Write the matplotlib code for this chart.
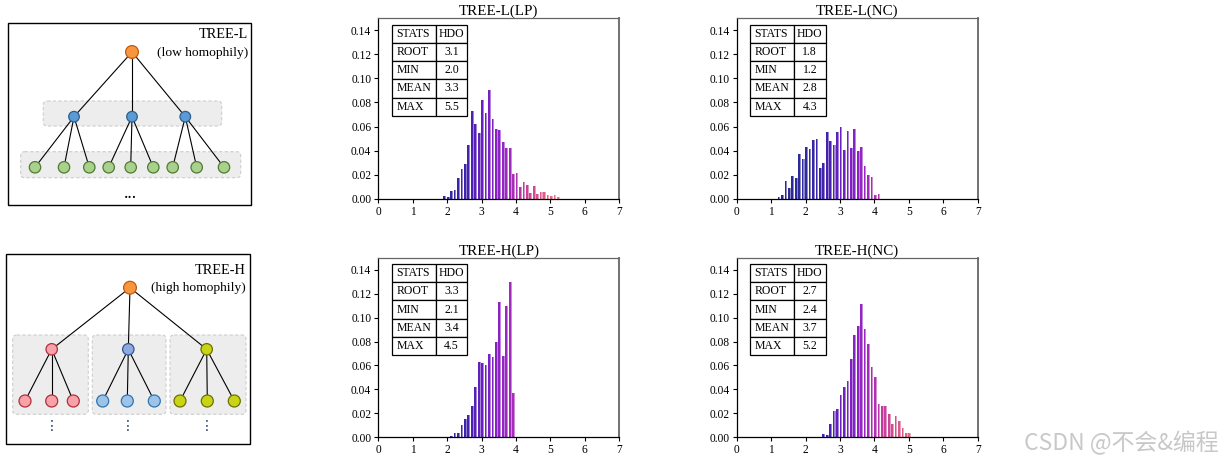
import numpy as np
import matplotlib
matplotlib.use("Agg")
import matplotlib.pyplot as plt
from matplotlib.patches import Circle, FancyBboxPatch, Rectangle
from matplotlib.colors import LinearSegmentedColormap, to_rgb

plt.rcParams['font.family'] = ['Liberation Serif', 'DejaVu Serif']

# ---- histogram data (bin width 0.1, first bin given by *_start) ----
BIN = 0.1
l_lp_start = 1.9
l_lp = [0.0025, 0.0014, 0.0064, 0.0072, 0.017, 0.0245, 0.029, 0.0446, 0.0733, 0.062,
        0.055, 0.082, 0.071, 0.090, 0.0666, 0.058, 0.057, 0.047, 0.042, 0.042,
        0.0206, 0.0217, 0.0095, 0.0137, 0.011, 0.0045, 0.0106, 0.004, 0.0053, 0.0053,
        0.0033, 0.002, 0.003, 0.0017]
l_nc_start = 1.2
l_nc = [0.0014, 0.0033, 0.0145, 0.0089, 0.019, 0.017, 0.0373, 0.0329, 0.0429, 0.041,
        0.049, 0.050, 0.0253, 0.0298, 0.0554, 0.048, 0.0448, 0.0554, 0.060, 0.0407,
        0.0565, 0.0418, 0.058, 0.040, 0.043, 0.0276, 0.0198, 0.0184, 0.003, 0.004]
h_lp_start = 2.1
h_lp = [0.0008, 0.0036, 0.0036, 0.0103, 0.0153, 0.0184, 0.0264, 0.042, 0.063, 0.0623,
        0.060, 0.0696, 0.067, 0.0796, 0.1127, 0.0679, 0.110, 0.130, 0.037, 0.0006]
h_nc_start = 2.5
h_nc = [0.0028, 0.0017, 0.011, 0.022, 0.024, 0.0356, 0.042, 0.047, 0.065, 0.0854,
        0.0927, 0.111, 0.0905, 0.078, 0.059, 0.0507, 0.0276, 0.026, 0.026, 0.0195,
        0.011, 0.0178, 0.0134, 0.008, 0.0036, 0.0036]

stat_names = ["ROOT", "MIN", "MEAN", "MAX"]
l_lp_stats = ["3.1", "2.0", "3.3", "5.5"]
l_nc_stats = ["1.8", "1.2", "2.8", "4.3"]
h_lp_stats = ["3.3", "2.1", "3.4", "4.5"]
h_nc_stats = ["2.7", "2.4", "3.7", "5.2"]

titles = ["TREE-L(LP)", "TREE-L(NC)", "TREE-H(LP)", "TREE-H(NC)"]
x_ticks = [0, 1, 2, 3, 4, 5, 6, 7]
y_ticks = [0.00, 0.02, 0.04, 0.06, 0.08, 0.10, 0.12, 0.14]

# colour along the x axis
anchors = [(1.0, "#26268c"), (2.0, "#2e2a9e"), (2.6, "#4322ad"), (3.0, "#6a1fbf"),
           (3.5, "#8c22c4"), (3.9, "#a82cb8"), (4.3, "#c8409a"), (4.8, "#dc5d86"),
           (5.2, "#e8788a")]
x_lo, x_hi = anchors[0][0], anchors[-1][0]
cmap = LinearSegmentedColormap.from_list(
    "hdo", [((v - x_lo) / (x_hi - x_lo), c) for v, c in anchors])


def lighten(c, f=0.45):
    r = np.array(to_rgb(c))
    return tuple(r + (1 - r) * f)


def hist_panel(rect, title, start, vals, stats):
    ax = fig.add_axes(rect)
    x = start + BIN * np.arange(len(vals))
    cols = [cmap(np.clip((v - x_lo) / (x_hi - x_lo), 0, 1)) for v in x]
    ax.bar(x - 0.01, vals, width=0.05, align="edge", color=cols, linewidth=0)
    ax.bar(x + 0.04, vals, width=0.03, align="edge",
           color=[lighten(c) for c in cols], linewidth=0)
    ax.set_xlim(0, 7)
    ax.set_ylim(0, 0.15)
    ax.set_xticks(x_ticks)
    ax.set_yticks(y_ticks)
    ax.set_yticklabels([f"{t:.2f}" for t in y_ticks])
    ax.tick_params(labelsize=8.3, length=3, width=0.8, pad=2)
    for s in ax.spines.values():
        s.set_linewidth(0.9)
    ax.spines["top"].set_color("#666666")
    ax.spines["right"].set_color("#666666")
    ax.spines["right"].set_linewidth(1.3)
    ax.set_title(title, fontsize=10.8, pad=1.5)

    # stats table (axes fraction)
    tx, ty_top, tw, th = 0.056, 0.963, 0.313, 0.503
    w0 = tw * 0.58
    rh = th / 5
    rows = [("STATS", "HDO")] + list(zip(stat_names, stats))
    for i, (a, b) in enumerate(rows):
        y0 = ty_top - (i + 1) * rh
        ax.add_patch(Rectangle((tx, y0), w0, rh, transform=ax.transAxes,
                               facecolor="white", edgecolor="black", lw=0.9, zorder=5))
        ax.add_patch(Rectangle((tx + w0, y0), tw - w0, rh, transform=ax.transAxes,
                               facecolor="white", edgecolor="black", lw=0.9, zorder=5))
        ax.text(tx + 0.018, y0 + rh / 2, a, transform=ax.transAxes, ha="left",
                va="center", fontsize=8.5, zorder=6)
        ax.text(tx + w0 + (tw - w0) / 2, y0 + rh / 2, b, transform=ax.transAxes,
                ha="center", va="center", fontsize=8.5, zorder=6)
    return ax


fig = plt.figure(figsize=(12.24, 4.66), dpi=100)

# ---- tree diagrams drawn in pixel coordinates ----
tr = fig.add_axes([0, 0, 1, 1], zorder=-1)
tr.set_xlim(0, 1224)
tr.set_ylim(466, 0)
tr.axis("off")


def node(x, y, r, fc, ec):
    tr.add_patch(Circle((x, y), r, facecolor=fc, edgecolor=ec, lw=0.9, zorder=4))


def edge(p, q):
    tr.plot([p[0], q[0]], [p[1], q[1]], color="black", lw=0.8, zorder=3)


def group(x0, y0, x1, y1):
    tr.add_patch(FancyBboxPatch((x0, y0), x1 - x0, y1 - y0,
                                boxstyle="round,pad=0,rounding_size=4",
                                facecolor="#ededed", edgecolor="#cdcdcd",
                                lw=0.8, linestyle=(0, (3, 2)), zorder=1))


ORANGE, ORANGE_E = "#f7963c", "#c25a12"
BLUE, BLUE_E = "#5b9bd5", "#2b5f8c"
GREEN, GREEN_E = "#a9d18e", "#537a34"

# TREE-L
tr.add_patch(Rectangle((8.3, 23.3), 242.4, 181.7, facecolor="none",
                       edgecolor="black", lw=1.0))
group(43.3, 101, 221.7, 126)
group(20.7, 151.7, 240.7, 177.7)
root = (132, 52)
mids = [74, 132, 185.3]
leaves = [[35, 64, 89.3], [108.7, 130.7, 153.3], [172.7, 196.7, 224]]
for m, ls in zip(mids, leaves):
    edge(root, (m, 116.7))
    node(m, 116.7, 5.3, BLUE, BLUE_E)
    for lx in ls:
        edge((m, 116.7), (lx, 167.3))
        node(lx, 167.3, 5.7, GREEN, GREEN_E)
node(*root, 6.4, ORANGE, ORANGE_E)
tr.text(248.3, 35, "TREE-L", ha="right", va="center", fontsize=10.3)
tr.text(248.3, 52.7, "(low homophily)", ha="right", va="center", fontsize=9.7)
tr.text(130.7, 193, "...", ha="center", va="center", fontsize=13)

# TREE-H
tr.add_patch(Rectangle((6, 254), 244, 190, facecolor="none",
                       edgecolor="black", lw=1.0))
root_h = (130, 287.7)
groups_h = [(12.7, 88.3), (92.3, 166), (170, 246)]
mids_h = [51.7, 128.3, 206.7]
leaves_h = [[25, 51.7, 73.3], [102.7, 127.3, 154.3], [180, 207.3, 234.3]]
mid_cols = [("#f7a1a8", "#b0303a"), ("#8eaadb", "#2f5597"), ("#c8d416", "#6e7000")]
leaf_cols = [("#f7a1a8", "#b0303a"), ("#9dc3e6", "#2e75b6"), ("#c8d416", "#6e7000")]
dot_x = [51.7, 127.3, 206.7]
for g, m, ls, mc, lc, dx in zip(groups_h, mids_h, leaves_h, mid_cols, leaf_cols, dot_x):
    group(g[0], 335, g[1], 414.3)
    edge(root_h, (m, 349.3))
    node(m, 349.3, 5.7, *mc)
    for lx in ls:
        edge((m, 349.3), (lx, 401))
        node(lx, 401, 6, *lc)
    tr.text(dx, 426, "\u22ee", ha="center", va="center", fontsize=10,
            color="#1f3864", family=["DejaVu Sans"])
node(*root_h, 6.4, ORANGE, ORANGE_E)
tr.text(246, 270.7, "TREE-H", ha="right", va="center", fontsize=10.3)
tr.text(246, 287.7, "(high homophily)", ha="right", va="center", fontsize=9.7)

# ---- histograms ----
W = 241 / 1224
hist_panel([378.3 / 1224, 1 - 198.7 / 466, W, 180.4 / 466], titles[0], l_lp_start, l_lp, l_lp_stats)
hist_panel([736.7 / 1224, 1 - 198.7 / 466, W, 180.4 / 466], titles[1], l_nc_start, l_nc, l_nc_stats)
hist_panel([378.3 / 1224, 1 - 437.3 / 466, W, 179.6 / 466], titles[2], h_lp_start, h_lp, h_lp_stats)
hist_panel([736.7 / 1224, 1 - 437.3 / 466, W, 179.6 / 466], titles[3], h_nc_start, h_nc, h_nc_stats)

fig.text(1219 / 1224, 1 - 443 / 466, "CSDN @不会&编程", ha="right", va="center",
         fontsize=16.5, color="#c8c8c8", family=["Noto Sans CJK SC", "DejaVu Sans"])

fig.savefig("out.png", dpi=100)
